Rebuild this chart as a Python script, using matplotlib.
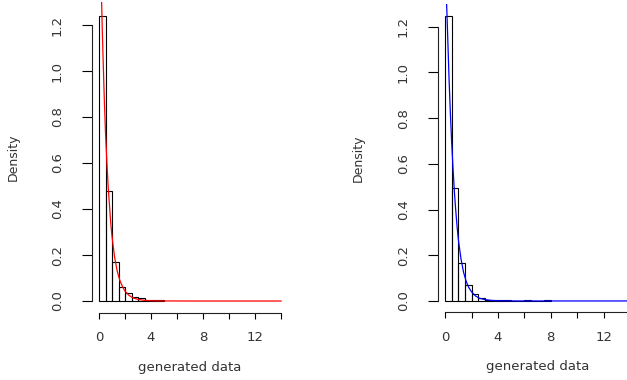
import matplotlib
matplotlib.use("Agg")
import matplotlib.pyplot as plt

plt.rcParams['font.family'] = ['DejaVu Sans']

# histogram of the first sample (bin starts, width 0.5) and its density
red_bins = [0.0, 0.5, 1.0, 1.5, 2.0, 2.5, 3.0, 3.5, 4.0, 4.5]
red_density = [1.24, 0.48, 0.168, 0.062, 0.036, 0.019, 0.012, 0.006, 0.004, 0.004]

# fitted curve for the first sample
red_x = [0.15, 0.2, 0.25, 0.3, 0.4, 0.5, 0.6, 0.7, 0.8, 0.9, 1.0, 1.2, 1.4,
         1.6, 1.8, 2.0, 2.3, 2.6, 3.0, 3.5, 4.0, 5.0, 7.0, 10.0, 14.0]
red_y = [1.36, 1.30, 1.18, 1.08, 0.89, 0.73, 0.61, 0.50, 0.42, 0.34, 0.28,
         0.19, 0.13, 0.09, 0.063, 0.043, 0.025, 0.014, 0.007, 0.003, 0.001,
         0.0003, 0.0, 0.0, 0.0]

# second sample
blue_bins = [0.0, 0.5, 1.0, 1.5, 2.0, 2.5, 3.0, 3.5, 4.0, 4.5, 5.0, 5.5,
             6.0, 6.5, 7.0, 7.5]
blue_density = [1.248, 0.493, 0.168, 0.070, 0.029, 0.012, 0.005, 0.004,
                0.003, 0.004, 0.0, 0.0, 0.004, 0.0, 0.0, 0.004]

blue_x = [0.1, 0.15, 0.2, 0.25, 0.3, 0.4, 0.5, 0.6, 0.7, 0.8, 0.9, 1.0, 1.2,
          1.4, 1.6, 1.8, 2.0, 2.3, 2.6, 3.0, 3.5, 4.0, 5.0, 7.0, 10.0, 14.0]
blue_y = [1.32, 1.24, 1.15, 1.06, 0.97, 0.82, 0.69, 0.58, 0.48, 0.40, 0.33,
          0.27, 0.185, 0.125, 0.085, 0.058, 0.040, 0.022, 0.012, 0.006,
          0.0025, 0.001, 0.0002, 0.0, 0.0, 0.0]

xticks = [0, 2, 4, 6, 8, 10, 12, 14]
xtick_labels = ['0', '', '4', '', '8', '', '12', '']
yticks = [0.0, 0.2, 0.4, 0.6, 0.8, 1.0, 1.2]
ytick_labels = ['0.0', '0.2', '0.4', '0.6', '0.8', '1.0', '1.2']

text_col = '#333333'


def hist_panel(ax, bins, dens, cx, cy, col):
    ax.bar(bins, dens, width=0.5, align='edge', fill=False,
           edgecolor='black', linewidth=0.8)
    ax.plot(cx, cy, color=col, linewidth=0.9)
    ax.set_xlim(-0.56, 14.56)
    ax.set_ylim(-0.05, 1.30)

    # R-like axes: no box, axis lines only between the end ticks
    for s in ['top', 'right']:
        ax.spines[s].set_visible(False)
    ax.spines['left'].set_bounds(0, 1.2)
    ax.spines['bottom'].set_bounds(0, 14)
    for s in ['left', 'bottom']:
        ax.spines[s].set_linewidth(0.8)
        ax.spines[s].set_color('#222222')

    ax.set_xticks(xticks)
    ax.set_xticklabels(xtick_labels)
    ax.set_yticks(yticks)
    ax.set_yticklabels(ytick_labels, rotation=90, va='center')
    ax.tick_params(axis='x', length=4.3, width=0.8, pad=9,
                   labelsize=9.5, labelcolor=text_col)
    ax.tick_params(axis='y', length=7.2, width=0.8, pad=13,
                   labelsize=9.5, labelcolor=text_col)

    ax.set_xlabel('generated data', fontsize=9.5, color=text_col, va='center')
    ax.xaxis.set_label_coords(0.5, -0.1765)
    ax.set_ylabel('Density', fontsize=9, color=text_col, va='center')
    ax.yaxis.set_label_coords(-0.40, 0.5)


fig = plt.figure(figsize=(6.27, 3.8), dpi=100)
ax1 = fig.add_axes([0.1463, 0.1776, 0.3136, 0.8171])
ax2 = fig.add_axes([0.6981, 0.1779, 0.3185, 0.8120])

hist_panel(ax1, red_bins, red_density, red_x, red_y, '#ff0000')
hist_panel(ax2, blue_bins, blue_density, blue_x, blue_y, '#0000ff')

fig.savefig('out.png', dpi=100)
